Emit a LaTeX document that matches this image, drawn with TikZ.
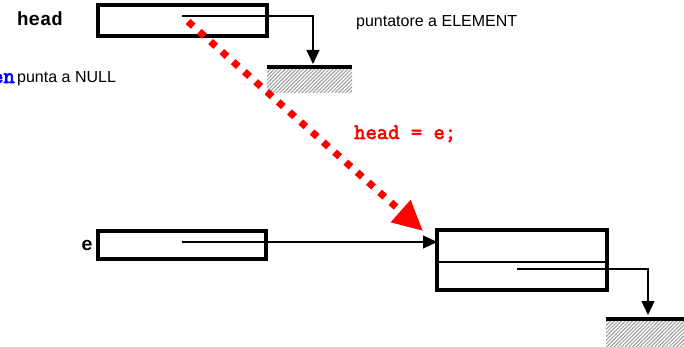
\documentclass[tikz,border=0pt]{standalone}
\usepackage{fontspec}
\setmainfont{Liberation Sans}
\newfontfamily\codefont{Liberation Mono}
\newfontfamily\slabfont{Latin Modern Mono}[AutoFakeBold=3]
\usetikzlibrary{arrows.meta,patterns.meta}

\tikzset{
  cell/.style={draw, line width=3.4pt, minimum width=#1, inner sep=0pt, outer sep=0pt},
  ptr/.style={line width=1.2pt, -{Triangle[length=14pt,width=13pt]}},
  hatch/.style={pattern={Lines[angle=45,distance=2.6pt,line width=1pt]}, pattern color=gray!80,
                inner sep=0pt, outer sep=0pt},
  bar/.style={line width=4.2pt},
  lbl/.style={font=\fontsize{16}{18}\selectfont, inner sep=0pt},
  code/.style={font=\codefont\bfseries\fontsize{19}{21}\selectfont, inner sep=0pt},
  slab/.style={font=\slabfont\bfseries\fontsize{22}{24}\selectfont, inner sep=0pt},
  assign/.style={red, line width=7pt, dash pattern=on 7pt off 8.1pt,
                 -{Triangle[length=30pt,width=28pt]}}
}

\begin{document}
\begin{tikzpicture}[x=1pt,y=-1pt]
  \useasboundingbox (0,0) rectangle (684,347);

  % head pointer variable and its NULL ground
  \node[cell=169pt, minimum height=31pt] (headbox) at (182.5,20.5) {};
  \coordinate (hp) at (182,16);
  \node[hatch, minimum width=85pt, minimum height=26pt] (g1) at (309.5,80) {};
  \draw[bar] (g1.north west) -- (g1.north east);
  \coordinate (g1in) at (313,64);
  \draw[ptr] (hp) -| (g1in);

  % element pointer e
  \node[cell=168pt, minimum height=28pt] (ebox) at (182,245) {};
  \coordinate (ep) at (182,242);

  % ELEMENT record with two fields
  \node[cell=170pt, minimum height=60pt] (elem) at (522,260) {};
  \draw[line width=2pt] (elem.west |- 0,262) coordinate (dl) -- (dl -| elem.east);
  \coordinate (np) at (517,269);
  \node[hatch, minimum width=78pt, minimum height=28pt] (g2) at (645,333) {};
  \draw[bar] (g2.north west) -- (g2.north east);
  \coordinate (g2in) at (648,315);
  \draw[ptr] (np) -| (g2in);

  \draw[ptr] (ep) -- (ep -| elem.west);

  % assignment head = e
  \coordinate (as) at (188,21.5);
  \coordinate (ae) at (423,231);
  \draw[assign] (as) -- (ae);

  % labels
  \node[code, anchor=base west] (lhead) at (17,26) {head};
  \node[code, anchor=base east] (le) at (93,250) {e};
  \node[slab, anchor=base east, text=blue] (len) at (15,83) {en};
  \node[lbl, anchor=base west] (lnull) at (17,83) {punta a NULL};
  \node[lbl, anchor=base west] (lelem) at (356,27) {puntatore a ELEMENT};
  \node[slab, anchor=base west, text=red] (lassign) at (354,139) {head = e;};
\end{tikzpicture}
\end{document}
